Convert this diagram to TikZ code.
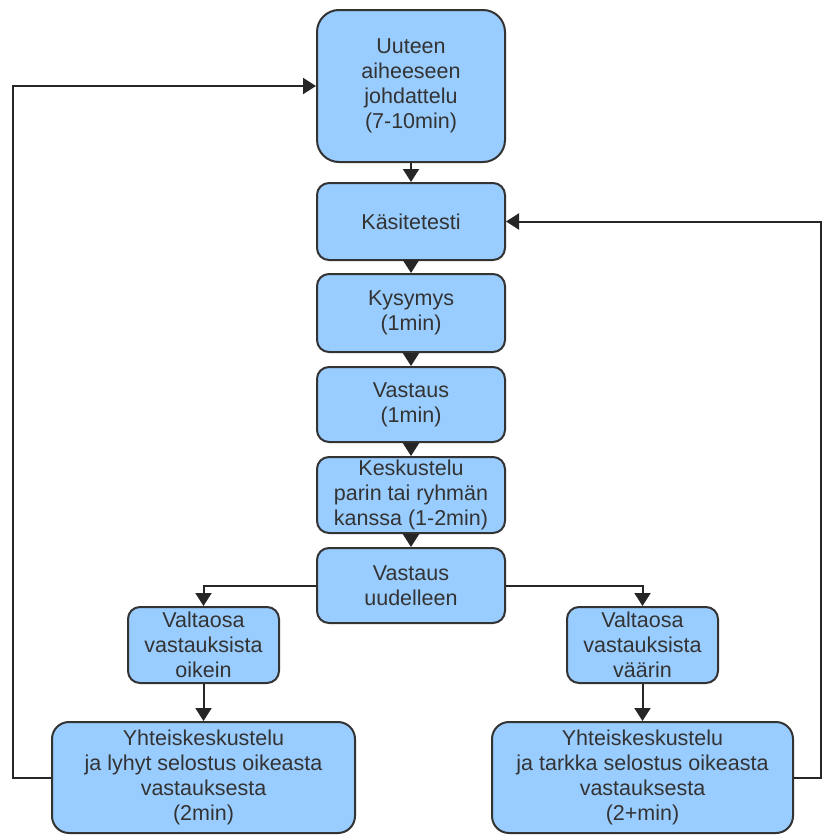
\documentclass[tikz,border=0pt]{standalone}
\usepackage{fontspec}
\setmainfont{Liberation Sans}
\usetikzlibrary{arrows.meta}
\definecolor{boxfill}{HTML}{99CCFF}
\definecolor{boxline}{HTML}{333333}
\definecolor{txt}{HTML}{333333}
\begin{document}
\begin{tikzpicture}[x=1pt,y=-1pt,
  box/.style={draw=boxline,line width=2pt,fill=boxfill,rounded corners=12pt,
    inner sep=0pt,align=center,text=txt,
    font=\fontsize{21.5}{25}\selectfont},
  conn/.style={draw=black!85,line width=2pt,-{Triangle[width=16pt,length=13pt]}},
  plain/.style={draw=black!85,line width=2pt}]
\useasboundingbox (0,0) rectangle (822,835);
\node[box,rounded corners=22pt,minimum width=188pt,minimum height=152pt] (b1) at (411,86) {Uuteen\\aiheeseen\\johdattelu\\(7-10min)};
\node[box,minimum width=188pt,minimum height=77pt] (b2) at (411,221.5) {Käsitetesti};
\node[box,minimum width=188pt,minimum height=78pt] (b3) at (411,313) {Kysymys\\(1min)};
\node[box,minimum width=188pt,minimum height=75pt] (b4) at (411,404.5) {Vastaus\\(1min)};
\node[box,minimum width=188pt,minimum height=76pt] (b5) at (411,495) {Keskustelu\\parin tai ryhmän\\kanssa (1-2min)};
\node[box,minimum width=188pt,minimum height=75pt] (b6) at (411,585.5) {Vastaus\\uudelleen};
\node[box,minimum width=151pt,minimum height=76pt] (l1) at (203.5,645) {Valtaosa\\vastauksista\\oikein};
\node[box,minimum width=151pt,minimum height=76pt] (r1) at (642.5,645) {Valtaosa\\vastauksista\\väärin};
\node[box,rounded corners=17pt,minimum width=303pt,minimum height=111pt] (l2) at (203.5,777.5) {Yhteiskeskustelu\\ja lyhyt selostus oikeasta\\vastauksesta\\(2min)};
\node[box,rounded corners=17pt,minimum width=301pt,minimum height=111pt] (r2) at (642.5,777.5) {Yhteiskeskustelu\\ja tarkka selostus oikeasta\\vastauksesta\\(2+min)};
\coordinate (lx) at (13,0);
\coordinate (rx) at (821,0);
\draw[conn] (b1) -- (b2);
\draw[conn] (b2) -- (b3);
\draw[conn] (b3) -- (b4);
\draw[conn] (b4) -- (b5);
\draw[conn] (b5) -- (b6);
\draw[conn] (b6.west) -| (l1.north);
\draw[conn] (b6.east) -| (r1.north);
\draw[conn] (l1) -- (l2);
\draw[conn] (r1) -- (r2);
\draw[conn] (l2.west) -- (lx |- l2.west) -- (lx |- b1.west) -- (b1.west);
\draw[conn] (r2.east) -- (rx |- r2.east) -- (rx |- b2.east) -- (b2.east);
\end{tikzpicture}
\end{document}
